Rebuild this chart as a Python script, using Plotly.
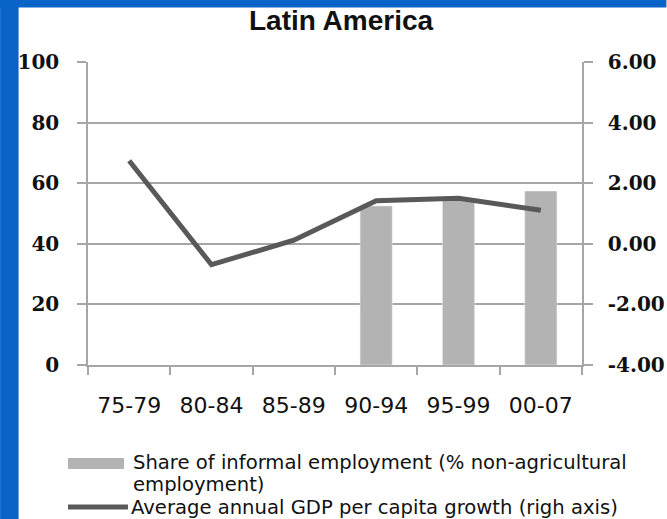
import plotly.graph_objects as go

categories = ["75-79", "80-84", "85-89", "90-94", "95-99", "00-07"]
informal_share = [None, None, None, 52.5, 55.0, 57.4]
gdp_growth = [2.74, -0.69, 0.12, 1.42, 1.50, 1.11]
left_ticks = [0, 20, 40, 60, 80, 100]
right_ticks = [-4, -2, 0, 2, 4, 6]
right_labels = ["-4.00", "-2.00", "0.00", "2.00", "4.00", "6.00"]

W, H = 667, 519
ML, MR, MT, MB = 88, 84.5, 62, 154
PW, PH = W - ML - MR, H - MT - MB


def px_x(px):
    return (px - ML) / PW


def px_y(py):
    return (H - MB - py) / PH


BAR_C = "#b3b3b3"
LINE_C = "#595959"
AX_C = "#a6a6a6"
BLUE = "#0a64c8"

fig = go.Figure()
fig.add_trace(go.Bar(x=categories, y=informal_share, marker_color=BAR_C,
                     width=0.39, name="Share of informal employment", yaxis="y"))
fig.add_trace(go.Scatter(x=categories, y=gdp_growth, mode="lines",
                         line=dict(color=LINE_C, width=5), name="GDP growth",
                         yaxis="y2"))

shapes = [
    dict(type="rect", xref="paper", yref="paper", x0=px_x(0), x1=px_x(18.5),
         y0=px_y(H), y1=px_y(0), fillcolor=BLUE, line_width=0, layer="below"),
    dict(type="rect", xref="paper", yref="paper", x0=px_x(0), x1=px_x(W),
         y0=px_y(7.5), y1=px_y(0), fillcolor=BLUE, line_width=0, layer="below"),
    # legend swatches
    dict(type="rect", xref="paper", yref="paper", x0=px_x(68), x1=px_x(124),
         y0=px_y(469), y1=px_y(458), fillcolor=BAR_C, line_width=0),
    dict(type="line", xref="paper", yref="paper", x0=px_x(68), x1=px_x(128),
         y0=px_y(507), y1=px_y(507), line=dict(color=LINE_C, width=5)),
]

leg_font = dict(family="DejaVu Sans", size=19.6, color="#111111")
annotations = [
    dict(text="<b>Latin America</b>", xref="paper", yref="paper",
         x=px_x(342), y=px_y(20), showarrow=False, xanchor="center", yanchor="middle",
         font=dict(family="Liberation Sans", size=28, color="#111111")),
    dict(text="Share of informal employment (% non-agricultural", xref="paper",
         yref="paper", x=px_x(131), y=px_y(462.5), showarrow=False, xanchor="left",
         yanchor="middle", font=leg_font),
    dict(text="employment)", xref="paper", yref="paper", x=px_x(131), y=px_y(484.5),
         showarrow=False, xanchor="left", yanchor="middle", font=leg_font),
    dict(text="Average annual GDP per capita growth (righ axis)", xref="paper",
         yref="paper", x=px_x(129), y=px_y(507), showarrow=False, xanchor="left",
         yanchor="middle", font=leg_font),
]

tick_font_serif = dict(family="DejaVu Serif", size=20, color="#111111", weight="bold")

fig.update_layout(
    width=W, height=H,
    margin=dict(l=ML, r=MR, t=MT, b=MB, pad=0),
    paper_bgcolor="white", plot_bgcolor="white",
    showlegend=False,
    shapes=shapes, annotations=annotations,
    xaxis=dict(type="category", range=[-0.5, 5.5], tickson="boundaries",
               ticks="outside", ticklen=8, tickcolor=AX_C, tickwidth=1.5,
               showline=True, linecolor=AX_C, linewidth=1.5, showgrid=False,
               automargin=False,
               tickfont=dict(family="DejaVu Sans", size=22, color="#111111"),
               ticklabelstandoff=20),
    yaxis=dict(range=[0, 100], tickvals=left_ticks, ticks="outside", ticklen=9,
               tickcolor=AX_C, tickwidth=1.5, showline=True, linecolor=AX_C,
               linewidth=1.5, showgrid=True, gridcolor=AX_C, gridwidth=1.5,
               zeroline=False, automargin=False,
               tickfont=tick_font_serif, ticklabelstandoff=14),
    yaxis2=dict(range=[-4, 6], tickvals=right_ticks, ticktext=right_labels,
                overlaying="y", side="right", ticks="outside", ticklen=9,
                tickcolor=AX_C, tickwidth=1.5, showline=True, linecolor=AX_C,
                linewidth=1.5, showgrid=False, zeroline=False, automargin=False,
                tickfont=tick_font_serif, ticklabelstandoff=11),
)

fig.write_html("out.html", config={"displayModeBar": False},
               post_script="document.body.style.margin='0';")
